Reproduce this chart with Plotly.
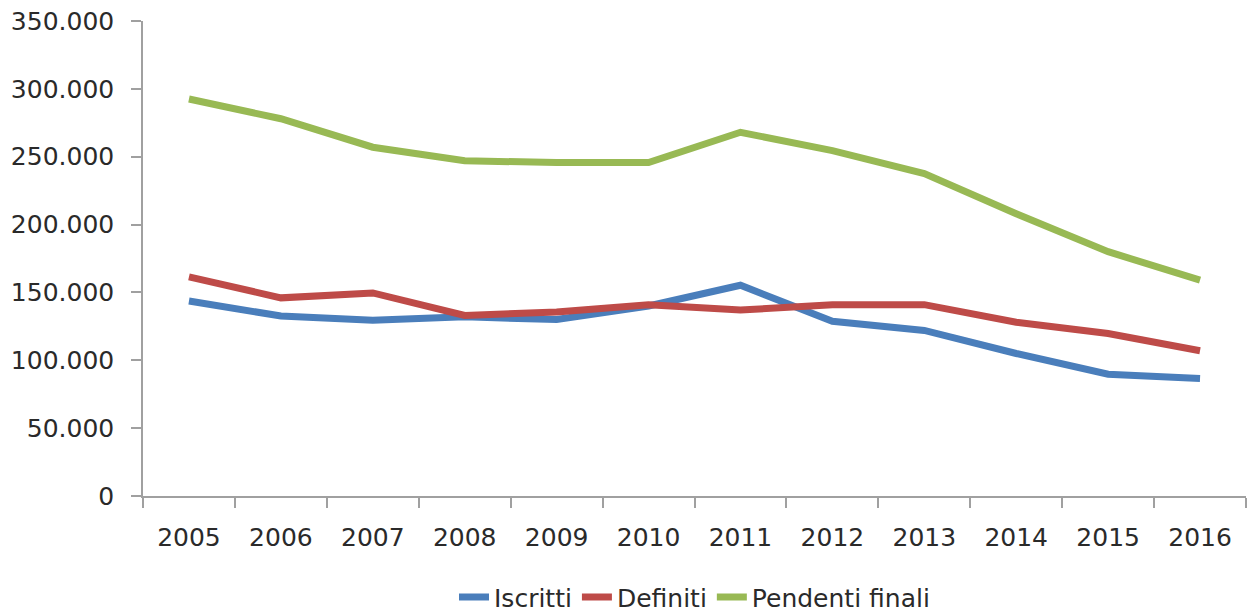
import plotly.graph_objects as go

years = ["2005", "2006", "2007", "2008", "2009", "2010", "2011", "2012", "2013", "2014", "2015", "2016"]
iscritti = [143700, 132600, 129500, 132000, 130000, 140000, 155300, 128700, 122000, 105000, 89700, 86500]
definiti = [161400, 146000, 149600, 133000, 135600, 141000, 137000, 141000, 141000, 128000, 119700, 107000]
pendenti = [292500, 278000, 257000, 247000, 245700, 245700, 268000, 254500, 237600, 208000, 180000, 159000]

series = [
    ("Iscritti", iscritti, "#4A7EBB"),
    ("Definiti", definiti, "#BE4B48"),
    ("Pendenti finali", pendenti, "#98B954"),
]

fig = go.Figure()
for name, vals, color in series:
    fig.add_trace(go.Scatter(
        x=years, y=vals, name=name, mode="lines",
        line=dict(color=color, width=7),
    ))

font_family = "DejaVu Sans"
fig.update_layout(
    width=1250, height=613,
    margin=dict(l=143, r=4, t=21, b=117, autoexpand=False),
    paper_bgcolor="white", plot_bgcolor="white",
    separators=",.",
    font=dict(family=font_family, size=25, color="#2a2a2a"),
    showlegend=True,
    legend=dict(
        orientation="h", x=0.5, xanchor="center", y=-0.213, yanchor="middle",
        font=dict(family=font_family, size=25, color="#2a2a2a"),
        itemwidth=30, tracegroupgap=0,
    ),
    xaxis=dict(
        type="category", range=[-0.5, 11.5], automargin=False,
        showline=True, linecolor="#A0A0A0", linewidth=1.5,
        ticks="outside", tickson="boundaries", ticklen=10, tickcolor="#A0A0A0", tickwidth=1.5,
        showgrid=False, zeroline=False,
        ticklabelstandoff=18,
    ),
    yaxis=dict(
        range=[0, 350000], dtick=50000, tick0=0, tickformat=",d", automargin=False,
        showline=True, linecolor="#A0A0A0", linewidth=1.5,
        ticks="outside", ticklen=10, tickcolor="#A0A0A0", tickwidth=1.5,
        showgrid=False, zeroline=False,
        ticklabelstandoff=12,
    ),
)

fig.write_html("out.html")
